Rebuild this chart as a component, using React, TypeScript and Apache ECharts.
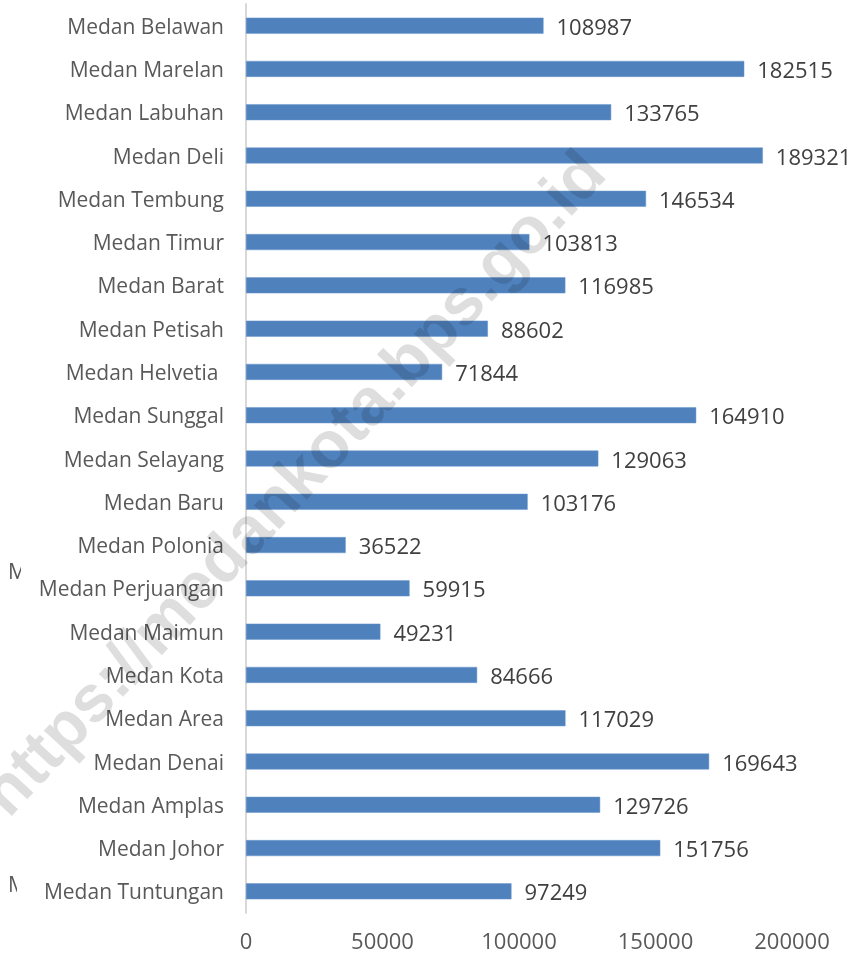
import React, { useEffect, useRef } from "react";
import * as echarts from "echarts";

const categories = [
  "Medan Tuntungan",
  "Medan Johor",
  "Medan Amplas",
  "Medan Denai",
  "Medan Area",
  "Medan Kota",
  "Medan Maimun",
  "Medan Perjuangan",
  "Medan Polonia",
  "Medan Baru",
  "Medan Selayang",
  "Medan Sunggal",
  "Medan Helvetia ",
  "Medan Petisah",
  "Medan Barat",
  "Medan Timur",
  "Medan Tembung",
  "Medan Deli",
  "Medan Labuhan",
  "Medan Marelan",
  "Medan Belawan",
];

const values = [
  97249, 151756, 129726, 169643, 117029, 84666, 49231, 59915, 36522, 103176,
  129063, 164910, 71844, 88602, 116985, 103813, 146534, 189321, 133765, 182515,
  108987,
];

const xTicks = [0, 50000, 100000, 150000, 200000];
const watermark = "https://medankota.bps.go.id";

export default function App() {
  const ref = useRef<HTMLDivElement>(null);

  useEffect(() => {
    if (!ref.current) return;
    const chart = echarts.init(ref.current, null, { renderer: "svg" });
    const font = "'Open Sans', 'Noto Sans', sans-serif";
    chart.setOption({
      animation: false,
      grid: { left: 246, right: 65, top: 4, bottom: 42, containLabel: false },
      xAxis: {
        type: "value",
        min: xTicks[0],
        max: xTicks[xTicks.length - 1],
        interval: 50000,
        axisLine: { show: false },
        axisTick: { show: false },
        splitLine: { show: false },
        axisLabel: {
          color: "#595959",
          fontSize: 22,
          fontFamily: font,
          margin: 16,
          formatter: (v: number) => String(v),
        },
      },
      yAxis: {
        type: "category",
        data: categories,
        axisLine: { show: true, lineStyle: { color: "#d9d9d9", width: 2 } },
        axisTick: { show: false },
        axisLabel: {
          color: "#595959",
          fontSize: 21,
          fontFamily: font,
          margin: 22,
        },
      },
      series: [
        {
          type: "bar",
          data: values,
          barWidth: 16,
          itemStyle: { color: "#4f81bd", borderColor: "#6a96cc", borderWidth: 0.5 },
          label: {
            show: true,
            position: "right",
            distance: 13,
            color: "#404040",
            fontSize: 22,
            fontFamily: font,
          },
        },
      ],
      graphic: [
        {
          type: "text",
          left: 8,
          top: 560,
          z: 10,
          style: { text: "M", fill: "#595959", font: `21px ${font}` },
        },
        {
          type: "rect",
          left: 21,
          top: 558,
          z: 11,
          shape: { width: 8, height: 30 },
          style: { fill: "#ffffff" },
        },
        {
          type: "text",
          left: 8,
          top: 873,
          z: 10,
          style: { text: "M", fill: "#595959", font: `21px ${font}` },
        },
        {
          type: "rect",
          left: 17,
          top: 871,
          z: 11,
          shape: { width: 10, height: 30 },
          style: { fill: "#ffffff" },
        },
        {
          type: "text",
          x: 292,
          y: 482,
          rotation: 0.82,
          z: 100,
          style: {
            text: watermark,
            fill: "rgba(0,0,0,0.13)",
            font: "bold 66px 'Liberation Sans', Arial, sans-serif",
            align: "center",
            verticalAlign: "middle",
          },
        },
      ],
    });
    return () => chart.dispose();
  }, []);

  return (
    <div
      ref={ref}
      style={{ position: "fixed", left: 0, top: 0, width: 857, height: 955 }}
    />
  );
}
